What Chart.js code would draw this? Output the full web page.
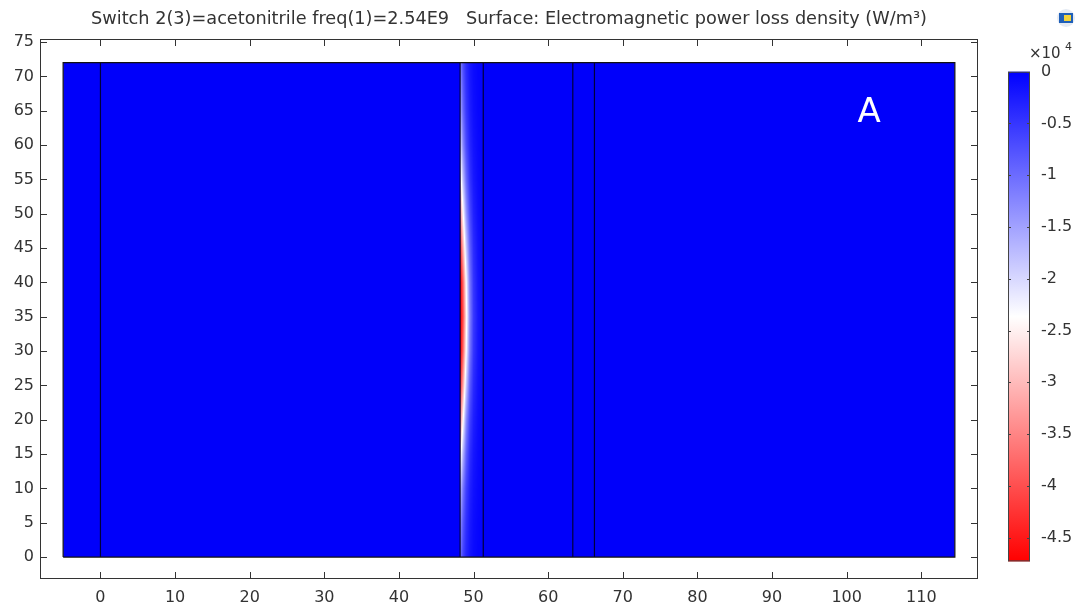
<!DOCTYPE html>
<html>
<head>
<meta charset="utf-8">
<script src="https://cdn.jsdelivr.net/npm/chart.js@4/dist/chart.umd.min.js"></script>
<style>
  body { margin: 0; background: #fff; }
  canvas { display: block; }
</style>
</head>
<body>
<canvas id="chart" width="1084" height="609"></canvas>
<script>
'use strict'

// axis ticks
const xTicks = [0, 10, 20, 30, 40, 50, 60, 70, 80, 90, 100, 110]
const yTicks = [0, 5, 10, 15, 20, 25, 30, 35, 40, 45, 50, 55, 60, 65, 70, 75]
const cbTicks = [0, -0.5, -1, -1.5, -2, -2.5, -3, -3.5, -4, -4.5]

// geometry of the model (domain + internal boundaries)
const domainX = [-5, 114.5]
const domainTop = 72
const boundaryX = [0, 48.2, 51.3, 63.3, 66.2]

// power loss density (x10^4 W/m^3), inside the 48.2..51.3 layer
const fieldX = [48.25, 48.6, 49.0, 49.5, 50.0, 50.6, 51.3]
const fieldY = [0, 5, 10, 15, 20, 25, 30, 35, 40, 45, 50, 55, 60, 65, 72]
const fieldValues = [
    [-1.0, -0.6, -0.35, -0.18, -0.09, -0.04, -0.02],
    [-1.3, -0.8, -0.45, -0.23, -0.11, -0.05, -0.02],
    [-1.75, -1.1, -0.6, -0.3, -0.15, -0.07, -0.03],
    [-2.5, -1.65, -0.9, -0.42, -0.2, -0.09, -0.04],
    [-3.4, -2.4, -1.3, -0.6, -0.28, -0.12, -0.05],
    [-4.2, -3.2, -1.9, -0.85, -0.38, -0.16, -0.07],
    [-4.7, -3.8, -2.4, -1.1, -0.48, -0.2, -0.08],
    [-4.73, -4.0, -2.6, -1.2, -0.52, -0.22, -0.09],
    [-4.7, -3.8, -2.4, -1.1, -0.48, -0.2, -0.08],
    [-4.2, -3.1, -1.9, -0.9, -0.4, -0.17, -0.07],
    [-3.4, -2.4, -1.4, -0.68, -0.3, -0.13, -0.05],
    [-2.6, -1.75, -1.0, -0.48, -0.22, -0.1, -0.04],
    [-2.0, -1.25, -0.7, -0.35, -0.17, -0.08, -0.03],
    [-1.55, -0.95, -0.53, -0.27, -0.13, -0.06, -0.03],
    [-1.15, -0.7, -0.4, -0.2, -0.1, -0.05, -0.02]
]
const colorMin = -4.73
const colorMax = 0

const titleText = 'Switch 2(3)=acetonitrile freq(1)=2.54E9   Surface: Electromagnetic power loss density (W/m\u00B3)'
const FONT = "'DejaVu Sans', sans-serif"
const TEXT = '#333'

// blue -> white -> red
function waveColor(v) {
    let t = (v - colorMax) / (colorMin - colorMax)
    t = Math.max(0, Math.min(1, t))
    if (t < 0.5) {
        const c = Math.round(2 * t * 255)
        return [c, c, 255]
    }
    const c = Math.round((2 - 2 * t) * 255)
    return [255, c, c]
}

function findIdx(arr, v) {
    if (v <= arr[0]) return [0, 0, 0]
    if (v >= arr[arr.length - 1]) return [arr.length - 1, arr.length - 1, 0]
    for (let i = 0; i < arr.length - 1; i++) {
        if (v >= arr[i] && v <= arr[i + 1]) return [i, i + 1, (v - arr[i]) / (arr[i + 1] - arr[i])]
    }
    return [0, 0, 0]
}

function fieldAt(x, y) {
    const [i0, i1, fx] = findIdx(fieldX, x)
    const [j0, j1, fy] = findIdx(fieldY, y)
    const a = fieldValues[j0][i0] * (1 - fx) + fieldValues[j0][i1] * fx
    const b = fieldValues[j1][i0] * (1 - fx) + fieldValues[j1][i1] * fx
    return a * (1 - fy) + b * fy
}

const surfacePlugin = {
    id: 'surface',
    afterDatasetDraw(chart, args) {
        if (args.index !== 0) return
        const xs = chart.scales.x, ys = chart.scales.y
        const px0 = Math.round(xs.getPixelForValue(boundaryX[1]))
        const px1 = Math.round(xs.getPixelForValue(boundaryX[2]))
        const py0 = Math.round(ys.getPixelForValue(domainTop))
        const py1 = Math.round(ys.getPixelForValue(0))
        const w = px1 - px0, h = py1 - py0
        const off = document.createElement('canvas')
        off.width = w
        off.height = h
        const octx = off.getContext('2d')
        const img = octx.createImageData(w, h)
        for (let j = 0; j < h; j++) {
            const yv = ys.getValueForPixel(py0 + j + 0.5)
            for (let i = 0; i < w; i++) {
                const xv = xs.getValueForPixel(px0 + i + 0.5)
                const [r, g, b] = waveColor(fieldAt(xv, yv))
                const k = (j * w + i) * 4
                img.data[k] = r
                img.data[k + 1] = g
                img.data[k + 2] = b
                img.data[k + 3] = 255
            }
        }
        octx.putImageData(img, 0, 0)
        chart.ctx.drawImage(off, px0, py0)
    },
    afterDraw(chart) {
        const ctx = chart.ctx
        const area = chart.chartArea
        const xs = chart.scales.x, ys = chart.scales.y, cb = chart.scales.cb
        ctx.save()

        // frame + inward ticks
        ctx.strokeStyle = TEXT
        ctx.lineWidth = 1
        ctx.strokeRect(area.left + 0.5, area.top + 0.5, area.right - area.left - 1, area.bottom - area.top - 1)
        ctx.beginPath()
        for (const v of xTicks) {
            const px = Math.round(xs.getPixelForValue(v)) + 0.5
            ctx.moveTo(px, area.bottom); ctx.lineTo(px, area.bottom - 7)
            ctx.moveTo(px, area.top); ctx.lineTo(px, area.top + 7)
        }
        for (const v of yTicks) {
            const py = Math.round(ys.getPixelForValue(v)) + 0.5
            ctx.moveTo(area.left, py); ctx.lineTo(area.left + 7, py)
            ctx.moveTo(area.right, py); ctx.lineTo(area.right - 7, py)
        }
        ctx.stroke()

        // label A
        ctx.fillStyle = '#fff'
        ctx.font = '34px ' + FONT
        ctx.textAlign = 'center'
        ctx.textBaseline = 'middle'
        ctx.fillText('A', xs.getPixelForValue(103), ys.getPixelForValue(64.7))

        // colour bar
        const bx0 = 1008, bx1 = 1030
        const by0 = cb.getPixelForValue(colorMax)
        const by1 = cb.getPixelForValue(colorMin)
        const grad = ctx.createLinearGradient(0, by0, 0, by1)
        grad.addColorStop(0, 'rgb(0,0,255)')
        grad.addColorStop(0.5, 'rgb(255,255,255)')
        grad.addColorStop(1, 'rgb(255,0,0)')
        ctx.fillStyle = grad
        ctx.fillRect(bx0, by0, bx1 - bx0, by1 - by0)
        ctx.strokeStyle = '#444'
        ctx.strokeRect(bx0 + 0.5, by0 + 0.5, bx1 - bx0 - 1, by1 - by0 - 1)
        ctx.beginPath()
        for (const v of cbTicks) {
            const py = Math.round(cb.getPixelForValue(v)) + 0.5
            ctx.moveTo(bx0, py); ctx.lineTo(bx0 + 3, py)
            ctx.moveTo(bx1, py); ctx.lineTo(bx1 - 3, py)
        }
        ctx.stroke()

        // x10^4
        ctx.fillStyle = TEXT
        ctx.textAlign = 'left'
        ctx.textBaseline = 'alphabetic'
        ctx.font = '15px ' + FONT
        ctx.fillText('\u00D710', 1029, 58)
        ctx.font = '11px ' + FONT
        ctx.fillText('4', 1065, 50)

        // title
        ctx.font = '17.7px ' + FONT
        ctx.textAlign = 'center'
        ctx.textBaseline = 'middle'
        ctx.fillText(titleText, (area.left + area.right) / 2, 19)

        // small app icon
        ctx.fillStyle = '#e4eaf3'
        ctx.beginPath()
        ctx.arc(1066, 18, 9, 0, Math.PI * 2)
        ctx.fill()
        ctx.fillStyle = '#1f5fb8'
        ctx.fillRect(1059, 13, 14, 10)
        ctx.fillStyle = '#f2d23a'
        ctx.fillRect(1064, 15, 7, 6)
        ctx.restore()
    }
}

const datasets = [
    {
        // domain fill, drawn first (highest order)
        data: domainX.map(x => ({x: x, y: domainTop})),
        fill: 'origin',
        backgroundColor: 'rgb(0,0,250)',
        borderWidth: 0,
        pointRadius: 0,
        order: 10
    },
    {
        // outer boundary
        data: [
            {x: domainX[0], y: 0}, {x: domainX[1], y: 0}, {x: domainX[1], y: domainTop},
            {x: domainX[0], y: domainTop}, {x: domainX[0], y: 0}
        ],
        borderColor: '#111',
        borderWidth: 1.2,
        pointRadius: 0,
        fill: false,
        order: 1
    }
].concat(boundaryX.map(x => ({
    data: [{x: x, y: 0}, {x: x, y: domainTop}],
    borderColor: '#00003a',
    borderWidth: 1.2,
    pointRadius: 0,
    fill: false,
    order: 1
})))

const tickFont = {size: 16, family: FONT}

new Chart(document.getElementById('chart'), {
    type: 'line',
    data: {datasets: datasets},
    options: {
        responsive: false,
        animation: false,
        devicePixelRatio: 1,
        layout: {padding: {top: 39, left: 0, right: 0, bottom: 0}},
        plugins: {legend: {display: false}, tooltip: {enabled: false}, title: {display: false}},
        elements: {line: {tension: 0}},
        scales: {
            x: {
                type: 'linear',
                position: 'bottom',
                min: -8.1,
                max: 117.6,
                afterBuildTicks: s => { s.ticks = xTicks.map(v => ({value: v})) },
                afterFit: s => { s.height = 30 },
                grid: {display: false, drawTicks: false},
                border: {display: false},
                ticks: {color: TEXT, font: tickFont, padding: 9, maxRotation: 0, autoSkip: false}
            },
            y: {
                type: 'linear',
                position: 'left',
                min: -3.2,
                max: 75.45,
                afterBuildTicks: s => { s.ticks = yTicks.map(v => ({value: v})) },
                afterFit: s => { s.width = 40 },
                grid: {display: false, drawTicks: false},
                border: {display: false},
                ticks: {color: TEXT, font: tickFont, padding: 6, autoSkip: false}
            },
            cb: {
                type: 'linear',
                position: 'right',
                min: -4.90,
                max: 0.316,
                afterBuildTicks: s => { s.ticks = cbTicks.map(v => ({value: v})) },
                afterFit: s => { s.width = 106 },
                grid: {display: true, drawOnChartArea: false, drawTicks: true, tickLength: 58, color: 'rgba(0,0,0,0)'},
                border: {display: false},
                ticks: {color: TEXT, font: tickFont, padding: 5, autoSkip: false, callback: v => String(v)}
            }
        }
    },
    plugins: [surfacePlugin]
})
</script>
</body>
</html>
